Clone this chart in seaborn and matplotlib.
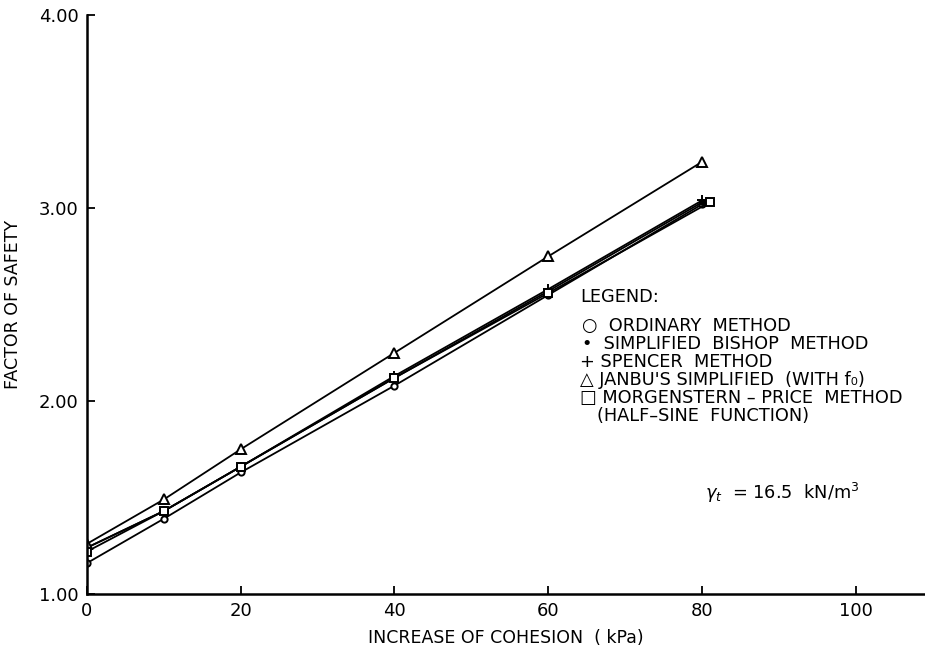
import matplotlib
matplotlib.use("Agg")
import matplotlib.pyplot as plt
import seaborn as sns
import pandas as pd

cohesion = [0, 10, 20, 40, 60, 80]
cohesion_mp = [0, 10, 20, 40, 60, 81]
ordinary = [1.16, 1.39, 1.63, 2.08, 2.55, 3.02]
bishop = [1.24, 1.43, 1.66, 2.12, 2.57, 3.03]
spencer = [1.24, 1.43, 1.66, 2.13, 2.58, 3.04]
janbu = [1.26, 1.49, 1.75, 2.25, 2.75, 3.24]
morgenstern = [1.22, 1.43, 1.66, 2.12, 2.56, 3.03]

x_ticks = [0, 20, 40, 60, 80, 100]
y_ticks = [1.0, 2.0, 3.0, 4.0]

sns.set_theme(style="ticks")
plt.rcParams['font.family'] = ['DejaVu Sans']
plt.rcParams['text.color'] = 'black'
plt.rcParams['axes.labelcolor'] = 'black'

fig = plt.figure(figsize=(9.25, 6.51), dpi=100)
ax = fig.add_axes([0.094, 0.0876, 0.906, 0.889])

series = [
    ("Ordinary", cohesion, ordinary, "o", "white", 4.5),
    ("Bishop", cohesion, bishop, "o", "black", 3.5),
    ("Spencer", cohesion, spencer, "+", "black", 7),
    ("Janbu", cohesion, janbu, "^", "white", 7),
    ("Morgenstern-Price", cohesion_mp, morgenstern, "s", "white", 5.5),
]
for name, xs, ys, mk, fc, ms in series:
    df = pd.DataFrame({"x": xs, "y": ys})
    sns.lineplot(data=df, x="x", y="y", ax=ax, color="black", lw=1.3,
                 marker=mk, markersize=ms, markerfacecolor=fc,
                 markeredgecolor="black", markeredgewidth=1.4)

ax.set_xlim(0, 109)
ax.set_ylim(1.0, 4.0)
ax.set_xticks(x_ticks)
ax.set_xticklabels([str(t) for t in x_ticks])
ax.set_yticks(y_ticks)
ax.set_yticklabels([f"{t:.2f}" for t in y_ticks])
ax.tick_params(direction="in", length=6, width=1.3, labelsize=13, colors="black", pad=6)
for s in ["top", "right"]:
    ax.spines[s].set_visible(False)
for s in ["left", "bottom"]:
    ax.spines[s].set_linewidth(1.8)
    ax.spines[s].set_color("black")

ax.set_xlabel("INCREASE OF COHESION  ( kPa)", fontsize=12.5, labelpad=6)
ax.set_ylabel("FACTOR OF SAFETY", fontsize=12.5, labelpad=12)

fs = 12.8
def ft(x, y, s, **kw):
    fig.text(x / 925, 1 - y / 651, s, fontsize=fs, va="center", ha="left",
             color="black", **kw)

ft(580, 297, "LEGEND:")
ft(582, 326, "○  ORDINARY  METHOD")
ft(582, 344, "•  SIMPLIFIED  BISHOP  METHOD")
ft(580, 362, "+ SPENCER  METHOD")
ft(580, 380, "△ JANBU'S SIMPLIFIED  (WITH f₀)")
ft(580, 398, "□ MORGENSTERN – PRICE  METHOD")
ft(597, 416, "(HALF–SINE  FUNCTION)")
ft(705, 493, r"$\gamma_t$  = 16.5  kN/m$^3$")

fig.savefig("out.png", dpi=100)
